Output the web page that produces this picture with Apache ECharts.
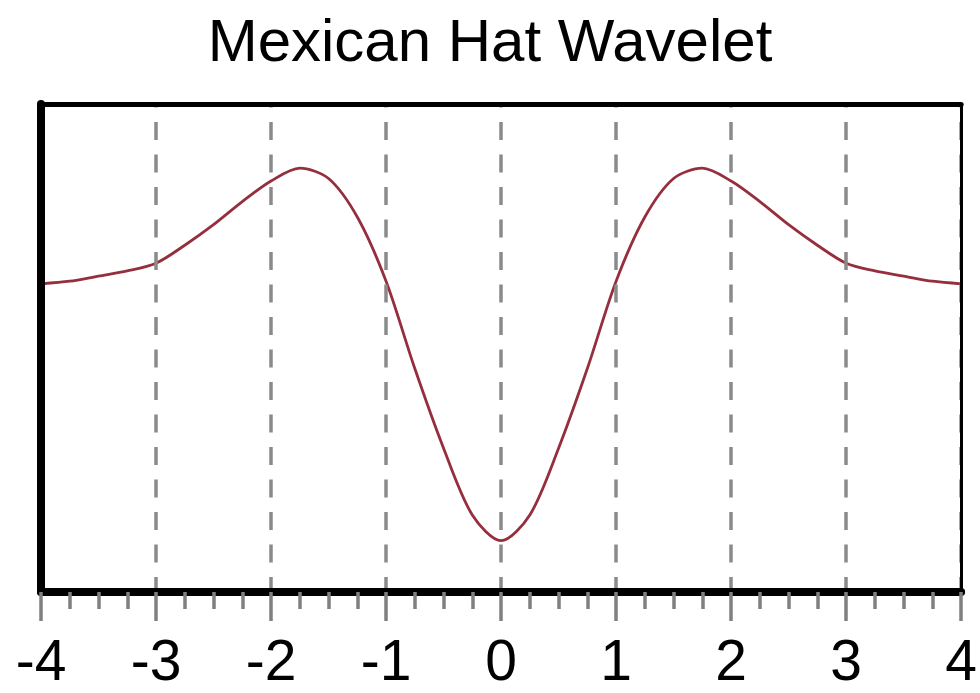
<!DOCTYPE html>
<html>
<head>
<meta charset="utf-8">
<script src="https://cdn.jsdelivr.net/npm/echarts@6/dist/echarts.min.js"></script>
<style>
html,body{margin:0;padding:0;background:#fff;}
#chart{width:980px;height:693px;}
</style>
</head>
<body>
<div id="chart"></div>
<script>
var titleText = 'Mexican Hat Wavelet';
var xValues = [-4, -3.75, -3.5, -3.25, -3, -2.75, -2.5, -2.25, -2, -1.75, -1.5, -1.25, -1, -0.75, -0.5, -0.25, 0,
               0.25, 0.5, 0.75, 1, 1.25, 1.5, 1.75, 2, 2.25, 2.5, 2.75, 3, 3.25, 3.5, 3.75, 4];
var yValues = [0.00, 0.01, 0.03, 0.05, 0.08, 0.15, 0.23, 0.32, 0.40, 0.45, 0.41, 0.26, 0.01, -0.33, -0.64, -0.90, -1.00,
               -0.90, -0.64, -0.33, 0.01, 0.26, 0.41, 0.45, 0.40, 0.32, 0.23, 0.15, 0.08, 0.05, 0.03, 0.01, 0.00];
var xMin = -4, xMax = 4, xStep = 1;
var yMin = -1.2, yMax = 0.7;

var points = xValues.map(function (x, i) { return [x, yValues[i]]; });
var font = 'Liberation Sans';

var chart = echarts.init(document.getElementById('chart'), null, {renderer: 'canvas'});
chart.setOption({
  animation: false,
  backgroundColor: '#ffffff',
  title: {
    text: titleText,
    left: 'center',
    top: 9,
    textStyle: {fontFamily: font, fontSize: 60, fontWeight: 'normal', color: '#000'}
  },
  grid: {left: 41, right: 17, top: 104, bottom: 100.5, containLabel: false},
  xAxis: [{
    type: 'value', min: xMin, max: xMax, interval: xStep, position: 'bottom', z: 5,
    axisLine: {show: true, onZero: false, lineStyle: {color: '#000', width: 8}},
    axisTick: {show: true, length: 29, lineStyle: {color: '#808080', width: 3.5}},
    minorTick: {show: true, splitNumber: 4, length: 17, lineStyle: {color: '#808080', width: 3.5}},
    splitLine: {show: true, lineStyle: {color: '#8a8a8a', width: 3.5, type: [18, 14.5], dashOffset: 14.5}},
    axisLabel: {fontFamily: font, fontSize: 57, color: '#000', margin: 44}
  }, {
    type: 'value', min: xMin, max: xMax, interval: xStep, position: 'top', z: 5,
    axisLine: {show: true, onZero: false, lineStyle: {color: '#000', width: 5}},
    axisTick: {show: false}, axisLabel: {show: false}, splitLine: {show: false}
  }],
  yAxis: [{
    type: 'value', min: yMin, max: yMax, position: 'left', z: 5,
    axisLine: {show: true, onZero: false, lineStyle: {color: '#000', width: 8}},
    axisTick: {show: false}, axisLabel: {show: false}, splitLine: {show: false}
  }, {
    type: 'value', min: yMin, max: yMax, position: 'right', z: 5,
    axisLine: {show: true, onZero: false, lineStyle: {color: '#000', width: 3}},
    axisTick: {show: false}, axisLabel: {show: false}, splitLine: {show: false}
  }],
  series: [{
    type: 'line',
    data: points,
    xAxisIndex: 0, yAxisIndex: 0,
    smooth: 0.3,
    symbol: 'none',
    lineStyle: {color: '#962f3d', width: 2.8},
    z: 3
  }]
});
</script>
</body>
</html>
